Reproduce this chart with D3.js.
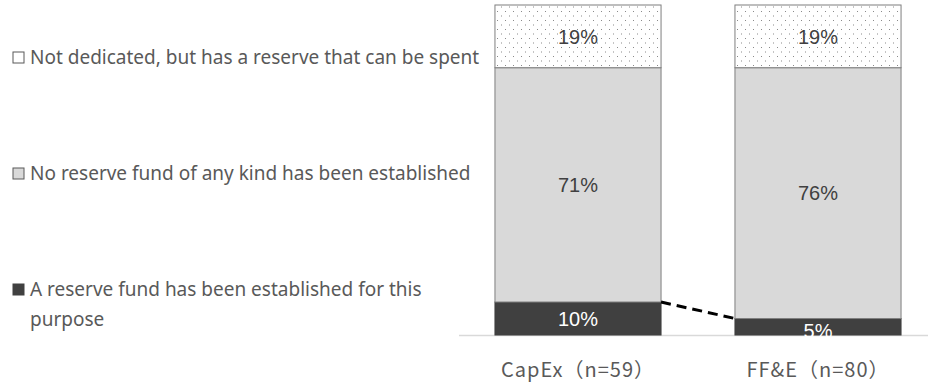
<!DOCTYPE html>
<html>
<head>
<meta charset="utf-8">
<script src="https://cdn.jsdelivr.net/npm/d3@7"></script>
<style>
  body { margin: 0; background: #fff; }
</style>
</head>
<body>
<div id="chart"></div>
<script>
// data
const categories = ["CapEx（n=59）", "FF&E（n=80）"];
const seriesNames = [
  "A reserve fund has been established for this purpose",
  "No reserve fund of any kind has been established",
  "Not dedicated, but has a reserve that can be spent"
];
const established = [10, 5];
const noReserve = [71, 76];
const notDedicated = [19, 19];

const width = 928;
const height = 385;

const svg = d3.select("#chart")
  .append("svg")
  .attr("width", width)
  .attr("height", height);

// dotted pattern for the top segment
const defs = svg.append("defs");
const pat = defs.append("pattern")
  .attr("id", "dots")
  .attr("patternUnits", "userSpaceOnUse")
  .attr("width", 8)
  .attr("height", 9);
pat.append("rect").attr("width", 8).attr("height", 9).attr("fill", "#fff");
pat.append("rect").attr("x", 1).attr("y", 2).attr("width", 1).attr("height", 1).attr("fill", "#8a8a8a");
pat.append("rect").attr("x", 5).attr("y", 6.5).attr("width", 1).attr("height", 1).attr("fill", "#8a8a8a");

const x = d3.scaleBand()
  .domain(categories)
  .range([458, 938])
  .paddingInner(0.308)
  .paddingOuter(0.154);

const y = d3.scaleLinear()
  .domain([0, 100])
  .range([335, 5]);

const rows = categories.map((c, i) => ({
  cat: c,
  values: [established[i], noReserve[i], notDedicated[i]]
}));

const keys = [0, 1, 2];
const stack = d3.stack()
  .keys(keys)
  .value((d, k) => d.values[k]);
const layers = stack(rows);

const fills = ["#404040", "#d9d9d9", "url(#dots)"];
const labelColors = ["#ffffff", "#404040", "#404040"];

// baseline
svg.append("line")
  .attr("x1", 459)
  .attr("x2", 928)
  .attr("y1", y(0) + 0.5)
  .attr("y2", y(0) + 0.5)
  .attr("stroke", "#d9d9d9")
  .attr("stroke-width", 1.5);

layers.forEach((layer, li) => {
  svg.append("g")
    .selectAll("rect")
    .data(layer)
    .enter()
    .append("rect")
    .attr("x", d => x(d.data.cat))
    .attr("y", d => y(d[1]))
    .attr("width", x.bandwidth())
    .attr("height", d => y(d[0]) - y(d[1]))
    .attr("fill", fills[li])
    .attr("stroke", li === 0 ? "#404040" : "#7f7f7f")
    .attr("stroke-width", 1);

  svg.append("g")
    .selectAll("text")
    .data(layer)
    .enter()
    .append("text")
    .attr("x", d => x(d.data.cat) + x.bandwidth() / 2)
    .attr("y", d => (y(d[0]) + y(d[1])) / 2)
    .attr("dy", d => (d[1] - d[0]) < 8 ? "0.55em" : "0.36em")
    .attr("text-anchor", "middle")
    .attr("fill", labelColors[li])
    .style("font-family", "'Liberation Sans', Arial, sans-serif")
    .style("font-size", "20px")
    .text(d => (d[1] - d[0]) + "%");
});

// dashed connector between the established segments
svg.append("line")
  .attr("x1", x(categories[0]) + x.bandwidth())
  .attr("y1", y(established[0]))
  .attr("x2", x(categories[1]))
  .attr("y2", y(established[1]))
  .attr("stroke", "#000")
  .attr("stroke-width", 3)
  .attr("stroke-dasharray", "10,6");

// category labels
svg.append("g")
  .selectAll("text")
  .data(categories)
  .enter()
  .append("text")
  .attr("x", d => x(d) + x.bandwidth() / 2)
  .attr("y", 377)
  .attr("text-anchor", "middle")
  .attr("fill", "#595959")
  .style("font-family", "'Noto Sans CJK JP', sans-serif")
  .style("font-size", "20px")
  .style("letter-spacing", "1px")
  .text(d => d);

// legend (top to bottom)
const legend = [
  { y: 57, fill: "#ffffff", stroke: "#595959", lines: [seriesNames[2]] },
  { y: 173, fill: "#d9d9d9", stroke: "#595959", lines: [seriesNames[1]] },
  { y: 289, fill: "#404040", stroke: "#404040",
    lines: ["A reserve fund has been established for this", "purpose"] }
];

const lg = svg.append("g");
legend.forEach(item => {
  lg.append("rect")
    .attr("x", 13)
    .attr("y", item.y - 5)
    .attr("width", 11)
    .attr("height", 11)
    .attr("fill", item.fill)
    .attr("stroke", item.stroke)
    .attr("stroke-width", 1);
  item.lines.forEach((line, k) => {
    lg.append("text")
      .attr("x", 30)
      .attr("y", item.y + k * 30)
      .attr("dy", "0.35em")
      .attr("fill", "#595959")
      .style("font-family", "'Noto Sans', sans-serif")
      .style("font-size", "19px")
      .text(line);
  });
});
</script>
</body>
</html>
